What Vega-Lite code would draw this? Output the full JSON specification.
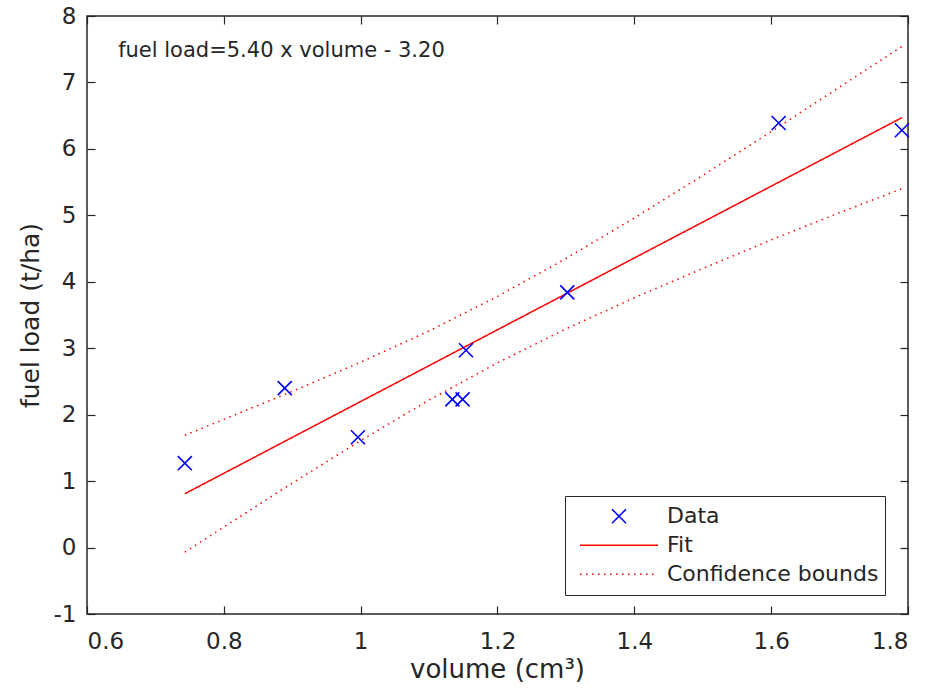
{
  "$schema": "https://vega.github.io/schema/vega-lite/v6.json",
  "width": 821,
  "height": 598,
  "autosize": "none",
  "padding": {"left": 87, "top": 16, "right": 23, "bottom": 78},
  "background": "white",
  "config": {
    "font": "DejaVu Sans",
    "view": {"stroke": "#262626", "strokeWidth": 1.5},
    "axis": {
      "grid": false,
      "domain": false,
      "tickColor": "#262626",
      "tickWidth": 1.2,
      "tickSize": -8,
      "labelColor": "#262626",
      "labelFontSize": 23,
      "labelFont": "DejaVu Sans",
      "titleColor": "#262626",
      "titleFontSize": 25,
      "titleFont": "DejaVu Sans",
      "titleFontWeight": "normal"
    },
    "legend": {
      "orient": "none",
      "legendX": 478,
      "legendY": 480,
      "strokeColor": "#262626",
      "fillColor": "white",
      "padding": 6,
      "labelFontSize": 22,
      "labelFont": "DejaVu Sans",
      "labelColor": "#262626",
      "labelLimit": 400,
      "clipHeight": 28.5,
      "rowPadding": 0,
      "symbolSize": 6084,
      "symbolStrokeWidth": 1.5,
      "symbolOffset": 8,
      "labelOffset": 8,
      "cornerRadius": 0
    }
  },
  "datasets": {
    "pts": [
      {"series": "Data", "volume": 0.743, "load": 1.27},
      {"series": "Data", "volume": 0.889, "load": 2.40},
      {"series": "Data", "volume": 0.996, "load": 1.66},
      {"series": "Data", "volume": 1.134, "load": 2.23},
      {"series": "Data", "volume": 1.149, "load": 2.23},
      {"series": "Data", "volume": 1.154, "load": 2.97},
      {"series": "Data", "volume": 1.302, "load": 3.84},
      {"series": "Data", "volume": 1.611, "load": 6.39},
      {"series": "Data", "volume": 1.791, "load": 6.28}
    ],
    "lines": [
      {"series": "Fit", "bound": "fit", "volume": 0.743, "load": 0.81},
      {"series": "Fit", "bound": "fit", "volume": 1.791, "load": 6.47},
      {"series": "Confidence bounds", "bound": "upper", "volume": 0.743, "load": 1.69},
      {"series": "Confidence bounds", "bound": "upper", "volume": 0.9, "load": 2.35},
      {"series": "Confidence bounds", "bound": "upper", "volume": 1.0, "load": 2.79},
      {"series": "Confidence bounds", "bound": "upper", "volume": 1.1, "load": 3.26},
      {"series": "Confidence bounds", "bound": "upper", "volume": 1.2, "load": 3.78},
      {"series": "Confidence bounds", "bound": "upper", "volume": 1.3, "load": 4.35},
      {"series": "Confidence bounds", "bound": "upper", "volume": 1.4, "load": 4.96},
      {"series": "Confidence bounds", "bound": "upper", "volume": 1.5, "load": 5.60},
      {"series": "Confidence bounds", "bound": "upper", "volume": 1.6, "load": 6.26},
      {"series": "Confidence bounds", "bound": "upper", "volume": 1.7, "load": 6.93},
      {"series": "Confidence bounds", "bound": "upper", "volume": 1.791, "load": 7.54},
      {"series": "Confidence bounds", "bound": "lower", "volume": 0.743, "load": -0.07},
      {"series": "Confidence bounds", "bound": "lower", "volume": 0.9, "load": 0.97},
      {"series": "Confidence bounds", "bound": "lower", "volume": 1.0, "load": 1.61},
      {"series": "Confidence bounds", "bound": "lower", "volume": 1.1, "load": 2.22},
      {"series": "Confidence bounds", "bound": "lower", "volume": 1.2, "load": 2.78},
      {"series": "Confidence bounds", "bound": "lower", "volume": 1.3, "load": 3.29},
      {"series": "Confidence bounds", "bound": "lower", "volume": 1.4, "load": 3.76},
      {"series": "Confidence bounds", "bound": "lower", "volume": 1.5, "load": 4.20},
      {"series": "Confidence bounds", "bound": "lower", "volume": 1.6, "load": 4.63},
      {"series": "Confidence bounds", "bound": "lower", "volume": 1.7, "load": 5.04},
      {"series": "Confidence bounds", "bound": "lower", "volume": 1.791, "load": 5.40}
    ],
    "note": [
      {"label": "fuel load=5.40 x volume - 3.20", "volume": 0.6455, "load": 7.48}
    ]
  },
  "layer": [
    {
      "data": {"name": "lines"},
      "mark": {"type": "line", "strokeWidth": 1.5, "clip": true},
      "encoding": {
        "x": {
          "field": "volume", "type": "quantitative",
          "scale": {"domain": [0.6, 1.8], "nice": false, "zero": false},
          "axis": {"orient": "bottom", "values": [0.6, 0.8, 1, 1.2, 1.4, 1.6, 1.8], "labelExpr": "'' + datum.value", "labelPadding": 24, "title": "volume (cm³)", "titleX": 410, "titleY": 55, "titleBaseline": "middle", "titleAlign": "center", "titleFontSize": 26}
        },
        "y": {
          "field": "load", "type": "quantitative",
          "scale": {"domain": [-1, 8], "nice": false, "zero": false},
          "axis": {"orient": "left", "values": [-1, 0, 1, 2, 3, 4, 5, 6, 7, 8], "labelExpr": "'' + datum.value", "labelPadding": 19, "title": "fuel load (t/ha)", "titleX": -57, "titleY": 299, "titleBaseline": "middle", "titleAlign": "center", "titleAngle": -90}
        },
        "color": {
          "field": "series", "type": "nominal",
          "scale": {"domain": ["Data", "Fit", "Confidence bounds"], "range": ["#0000ff", "#ff0000", "#ff0000"]},
          "legend": {"title": null}
        },
        "strokeDash": {
          "field": "series", "type": "nominal",
          "scale": {"domain": ["Data", "Fit", "Confidence bounds"], "range": [[1, 0], [1, 0], [1.5, 4.5]]},
          "legend": {"title": null}
        },
        "detail": {"field": "bound", "type": "nominal"}
      }
    },
    {
      "data": {"name": "pts"},
      "mark": {"type": "point", "size": 6084, "strokeWidth": 1.6, "opacity": 1, "filled": false},
      "encoding": {
        "x": {"field": "volume", "type": "quantitative", "axis": null},
        "y": {"field": "load", "type": "quantitative", "axis": null},
        "color": {"field": "series", "type": "nominal", "legend": {"title": null}},
        "shape": {
          "field": "series", "type": "nominal",
          "scale": {"domain": ["Data", "Fit", "Confidence bounds"], "range": ["M-0.18,-0.18L0.18,0.18M0.18,-0.18L-0.18,0.18", "stroke", "stroke"]},
          "legend": {"title": null}
        }
      }
    },
    {
      "data": {"name": "pts"},
      "mark": {"type": "point", "opacity": 0},
      "encoding": {
        "x": {"field": "volume", "type": "quantitative", "axis": {"orient": "top", "values": [0.6, 0.8, 1, 1.2, 1.4, 1.6, 1.8], "labels": false, "title": null}},
        "y": {"field": "load", "type": "quantitative", "axis": {"orient": "right", "values": [-1, 0, 1, 2, 3, 4, 5, 6, 7, 8], "labels": false, "title": null}}
      }
    },
    {
      "data": {"name": "note"},
      "mark": {"type": "text", "align": "left", "baseline": "middle", "fontSize": 21, "font": "DejaVu Sans", "color": "#262626"},
      "encoding": {
        "x": {"field": "volume", "type": "quantitative", "axis": null},
        "y": {"field": "load", "type": "quantitative", "axis": null},
        "text": {"field": "label"}
      }
    }
  ]
}
